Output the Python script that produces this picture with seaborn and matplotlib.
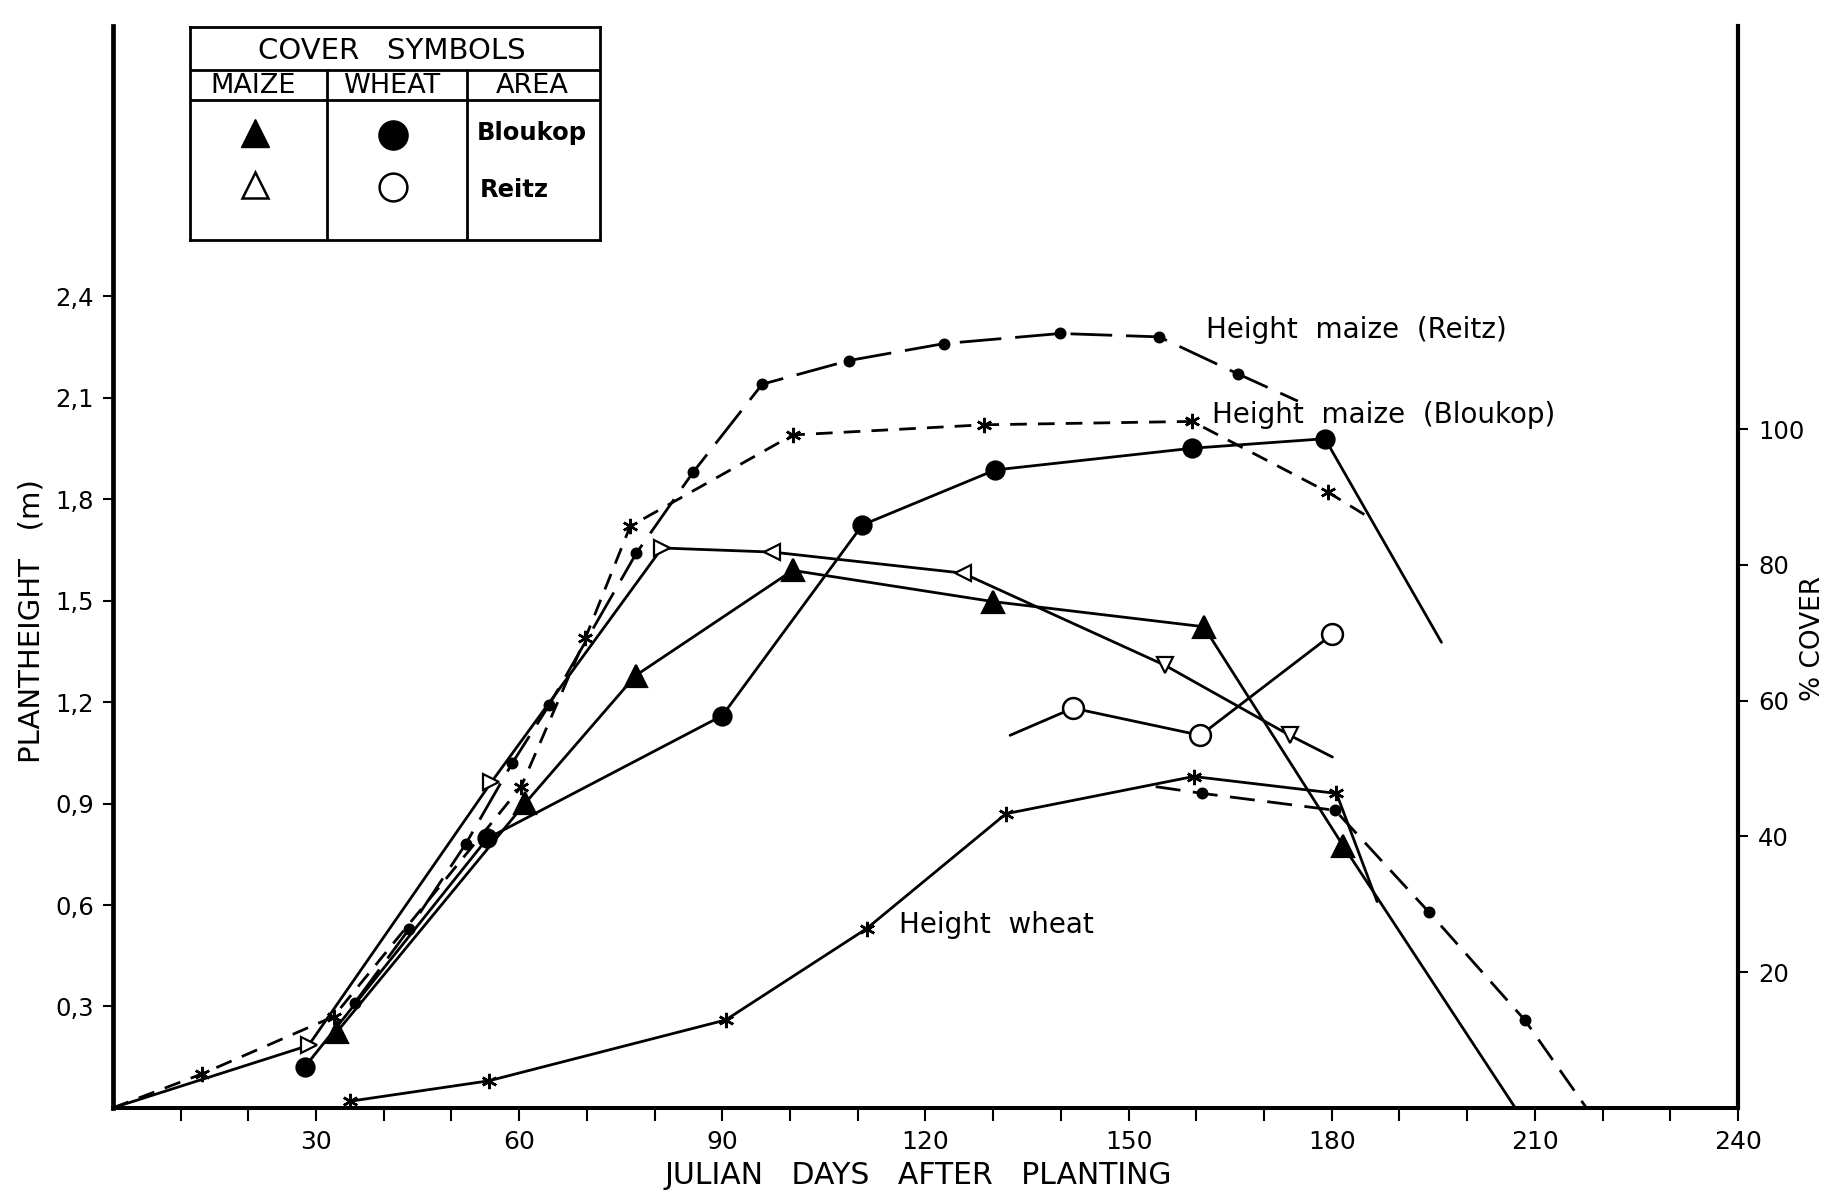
import matplotlib
matplotlib.use("Agg")
import matplotlib.pyplot as plt
import seaborn as sns
from matplotlib.ticker import FixedLocator

# ---------------- plant height (m) ----------------
hm_blk_days = [0, 13.1, 32.6, 60.3, 69.8, 76.4, 100.4, 128.6, 159.4, 179.5, 186.0]
hm_blk_m = [0.0, 0.10, 0.27, 0.95, 1.39, 1.72, 1.99, 2.02, 2.03, 1.82, 1.74]

hm_rtz_days = [35.7, 43.8, 52.1, 59.0, 64.4, 77.3, 85.7, 95.9, 108.7, 122.7, 139.9, 154.5, 166.2, 175.0]
hm_rtz_m = [0.31, 0.53, 0.78, 1.02, 1.19, 1.64, 1.88, 2.14, 2.21, 2.26, 2.29, 2.28, 2.17, 2.09]

hw_days = [35.1, 55.5, 90.5, 111.3, 131.9, 159.6, 180.7, 186.7]
hw_m = [0.02, 0.08, 0.26, 0.53, 0.87, 0.98, 0.93, 0.61]

hw2_days = [154.0, 160.9, 180.5, 194.3, 208.5, 217.6]
hw2_m = [0.95, 0.93, 0.88, 0.58, 0.26, 0.0]

# ---------------- ground cover (%) ----------------
cm_blk_days = [33.1, 60.9, 77.2, 100.4, 130.0, 161.1, 181.7, 207.1]
cm_blk_pct = [11.2, 44.9, 63.7, 79.2, 74.6, 70.9, 38.6, 0.0]

cm_rtz_days = [0, 28.9, 55.9, 81.1, 97.4, 125.5, 155.4, 173.8, 180.1]
cm_rtz_pct = [0.0, 9.2, 48.0, 82.5, 81.9, 78.8, 65.2, 54.9, 51.7]

cw_blk_days = [28.4, 55.3, 90.0, 110.7, 130.3, 159.4, 179.0, 196.2]
cw_blk_pct = [6.1, 39.7, 57.8, 85.9, 94.0, 97.2, 98.6, 68.6]

cw_rtz_days = [132.5, 141.8, 160.6, 180.1]
cw_rtz_pct = [54.9, 58.9, 54.9, 69.8]

# ---------------- axes ticks ----------------
x_major = [30, 60, 90, 120, 150, 180, 210, 240]
x_minor = [10, 20, 40, 50, 70, 80, 100, 110, 130, 140, 160, 170, 190, 200, 220, 230]
h_ticks = [0.3, 0.6, 0.9, 1.2, 1.5, 1.8, 2.1, 2.4]
h_labels = ["0,3", "0,6", "0,9", "1,2", "1,5", "1,8", "2,1", "2,4"]
c_ticks = [20, 40, 60, 80, 100]

# orientation of the hand-drawn open triangles along the Reitz maize curve
rtz_tri_markers = [">", ">", ">", "<", "<", "v", "v"]

sns.set_theme(style="ticks")
plt.rcParams["font.family"] = ["DejaVu Sans"]
plt.rcParams["axes.unicode_minus"] = False
for key_name in ["text.color", "axes.labelcolor", "xtick.color", "ytick.color",
                 "axes.edgecolor"]:
    plt.rcParams[key_name] = "black"

H_TOP = 3.2
PCT_PER_M = 289.0 / 5.8

fig = plt.figure(figsize=(18.34, 11.98), dpi=100)
fig.patch.set_facecolor("white")
ax = fig.add_axes([0.0615, 0.0752, 0.9477 - 0.0615, 0.9785 - 0.0752])
ax2 = ax.twinx()

LW = 2.0


def curve(axis, days, vals, ls, marker=None, ms=0, mfc="black", mew=1.6,
          mark=None, z=3):
    sns.lineplot(x=days, y=vals, ax=axis, color="black", linewidth=LW,
                 linestyle=ls, marker=marker, markersize=ms,
                 markerfacecolor=mfc, mec="black", mew=mew,
                 markevery=mark, sort=False, estimator=None, zorder=z)


ASTER = (6, 2, 0)

# heights on the left axis
curve(ax, hm_blk_days, hm_blk_m, (0, (6, 4)), ASTER, 11, mew=1.8,
      mark=list(range(1, len(hm_blk_days) - 1)))
curve(ax, hm_rtz_days, hm_rtz_m, (0, (15, 5)), "o", 7,
      mark=list(range(0, len(hm_rtz_days) - 1)))
curve(ax, hw_days, hw_m, "-", ASTER, 11, mew=1.8,
      mark=list(range(0, len(hw_days) - 1)))
curve(ax, hw2_days, hw2_m, (0, (9, 4.5)), "o", 7,
      mark=list(range(1, len(hw2_days) - 1)))

# cover on the right axis
curve(ax2, cm_blk_days, cm_blk_pct, "-", "^", 16.5,
      mark=list(range(0, len(cm_blk_days) - 1)), z=4)
curve(ax2, cw_blk_days, cw_blk_pct, "-", "o", 13,
      mark=list(range(0, len(cw_blk_days) - 1)), z=4)
curve(ax2, cw_rtz_days, cw_rtz_pct, "-", "o", 15, mfc="white", mew=1.8,
      mark=list(range(1, len(cw_rtz_days))), z=4)
curve(ax2, cm_rtz_days, cm_rtz_pct, "-", z=4)
for d, p, m in zip(cm_rtz_days[1:-1], cm_rtz_pct[1:-1], rtz_tri_markers):
    sns.lineplot(x=[d], y=[p], ax=ax2, linestyle="", marker=m, markersize=11,
                 markerfacecolor="white", mec="black", mew=1.6,
                 color="black", estimator=None, zorder=5)

# curve annotations
ax.text(161.4, 2.30, "Height  maize  (Reitz)", fontsize=20, ha="left", va="center")
ax.text(162.3, 2.05, "Height  maize  (Bloukop)", fontsize=20, ha="left", va="center")
ax.text(116.1, 0.54, "Height  wheat", fontsize=20, ha="left", va="center")

# limits
ax.set_xlim(0, 240)
ax.set_ylim(0, H_TOP)
ax2.set_ylim(0, H_TOP * PCT_PER_M)
ax.margins(0)

# spines
for s in ["top", "right"]:
    ax.spines[s].set_visible(False)
for s in ["top", "left", "bottom"]:
    ax2.spines[s].set_visible(False)
ax.spines["left"].set_linewidth(3.4)
ax.spines["bottom"].set_linewidth(2.9)
ax2.spines["right"].set_linewidth(3.0)
for sp in list(ax.spines.values()) + list(ax2.spines.values()):
    sp.set_color("black")

# ticks
ax.xaxis.set_major_locator(FixedLocator(x_major))
ax.xaxis.set_minor_locator(FixedLocator(x_minor))
ax.set_xticklabels([str(v) for v in x_major])
ax.tick_params(axis="x", which="both", direction="out", length=9, width=1.5,
               pad=7, labelsize=18, colors="black")
ax.set_yticks(h_ticks)
ax.set_yticklabels(h_labels)
ax.tick_params(axis="y", direction="out", length=7.5, width=1.5, pad=6,
               labelsize=17.5, colors="black")
ax2.set_yticks(c_ticks)
ax2.set_yticklabels([str(v) for v in c_ticks])
ax2.tick_params(axis="y", direction="out", length=7.5, width=1.5, pad=7,
                labelsize=17.5, colors="black")

# axis titles
ax.set_xlabel("JULIAN   DAYS   AFTER   PLANTING", fontsize=21.5, color="black")
ax.xaxis.set_label_coords(0.4955, -0.062)
ax.xaxis.label.set_va("center")
ax.set_ylabel("PLANTHEIGHT   (m)", fontsize=21, color="black")
ax.yaxis.set_label_coords(-0.05, 0.45)
ax.yaxis.label.set_va("center")
ax2.set_ylabel("% COVER", fontsize=19, rotation=90, color="black")
ax2.yaxis.set_label_coords(1.046, 0.4335)
ax2.yaxis.label.set_va("center")

# ---------------- symbol key (table) ----------------
key = fig.add_axes([0.1036, 0.7998, 0.2236, 0.1779])
key.set_xlim(0, 350.5)
key.set_ylim(182.2, 0)
key.set_xticks([])
key.set_yticks([])
key.set_facecolor("white")
for sp in key.spines.values():
    sp.set_visible(True)
    sp.set_linewidth(2.0)
    sp.set_color("black")
key.plot([0, 350.5], [37.2, 37.2], color="black", lw=2.0)
key.plot([0, 350.5], [62.7, 62.7], color="black", lw=2.0)
key.plot([116.8, 116.8], [37.2, 182.2], color="black", lw=2.0)
key.plot([236.5, 236.5], [37.2, 182.2], color="black", lw=2.0)
key.text(172.9, 20.5, "COVER   SYMBOLS", fontsize=21, ha="center", va="center")
key.text(54.0, 51.0, "MAIZE", fontsize=19.5, ha="center", va="center")
key.text(172.4, 51.0, "WHEAT", fontsize=19.5, ha="center", va="center")
key.text(292.4, 51.0, "AREA", fontsize=19.5, ha="center", va="center")
key.plot([55.5], [91.2], marker="^", ms=20, color="black", mec="black")
key.plot([173.5], [92.6], marker="o", ms=21, color="black", mec="black")
key.plot([55.5], [135.2], marker="^", ms=19, mfc="white", mec="black", mew=1.8)
key.plot([173.5], [136.8], marker="o", ms=20, mfc="white", mec="black", mew=1.8)
key.text(245.0, 91.2, "Bloukop", fontsize=17.5, ha="left", va="center", fontweight="bold")
key.text(247.5, 139.7, "Reitz", fontsize=17.5, ha="left", va="center", fontweight="bold")

fig.savefig("out.png", dpi=100, facecolor="white")
